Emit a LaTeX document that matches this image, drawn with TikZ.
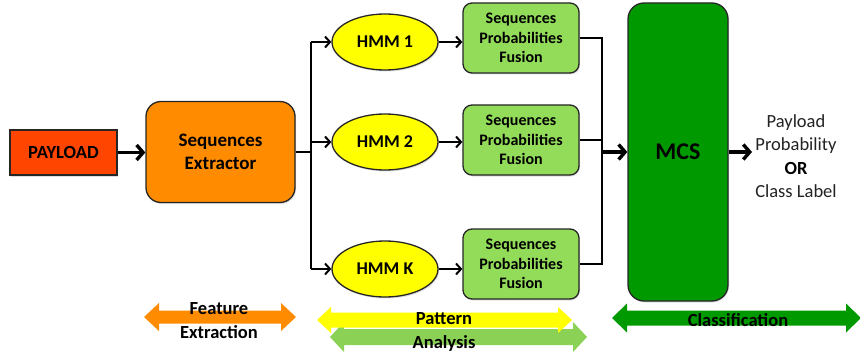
\documentclass[tikz,border=0pt]{standalone}
\usepackage{fontspec}
\setmainfont{Carlito}
\usetikzlibrary{arrows.meta,shapes.geometric,shadows}
\definecolor{payred}{HTML}{FF4500}
\definecolor{extor}{HTML}{FF8C00}
\definecolor{hmmy}{HTML}{FFFF00}
\definecolor{fusg}{HTML}{92DC5A}
\definecolor{mcsg}{HTML}{009900}
\definecolor{outgray}{HTML}{222222}
\newcommand\bigdarrow[7]{%
  \fill[#7] (#1,#3) -- (#1+#6,#3-#5) -- (#1+#6,#3-#4) -- (#2-#6,#3-#4) -- (#2-#6,#3-#5) -- (#2,#3)
    -- (#2-#6,#3+#5) -- (#2-#6,#3+#4) -- (#1+#6,#3+#4) -- (#1+#6,#3+#5) -- cycle;}
\begin{document}
\begin{tikzpicture}[x=1pt,y=-1pt,
  box/.style={draw=black!85, line width=1.3pt, text=black,
    drop shadow={opacity=0.25, shadow xshift=1pt, shadow yshift=-1.5pt}},
  conn/.style={line width=2pt, black},
  arr/.style={conn, -{Straight Barb[length=5pt,width=11pt]}},
  bigarr/.style={line width=3.4pt, black, -{Straight Barb[length=6.5pt,width=15pt]}},
  lbl/.style={font=\bfseries\fontsize{19}{23}\selectfont, align=center},
  fus/.style={box, rectangle, rounded corners=9pt, fill=fusg, minimum width=116pt, minimum height=70pt,
    inner sep=1pt, align=center, font=\bfseries\fontsize{16}{19.5}\selectfont},
  hmm/.style={box, ellipse, fill=hmmy, minimum width=106pt, minimum height=56pt, inner sep=0pt,
    font=\bfseries\fontsize{18}{20}\selectfont},
  bottomlbl/.style={font=\bfseries\fontsize{18.5}{24}\selectfont, align=center, text=black}
]
\useasboundingbox (0,0) rectangle (860,353);
\begin{scope}
\clip (0,0) rectangle (860,353);
% nodes
\node[box, rectangle, fill=payred, minimum width=107pt, minimum height=45pt, inner sep=0pt,
  font=\bfseries\fontsize{18.5}{20}\selectfont] (pay) at (63.5,152.5) {PAYLOAD};
\node[box, rectangle, rounded corners=15pt, fill=extor, minimum width=149pt, minimum height=101pt,
  lbl] (ext) at (220.5,152) {Sequences\\Extractor};
\node[hmm] (h1) at (385,42) {HMM 1};
\node[hmm] (h2) at (385,142) {HMM 2};
\node[hmm] (hk) at (385,269) {HMM K};
\node[fus] (f1) at (521,38) {Sequences\\Probabilities\\Fusion};
\node[fus] (f2) at (521,140) {Sequences\\Probabilities\\Fusion};
\node[fus] (fk) at (521,264) {Sequences\\Probabilities\\Fusion};
\node[box, rectangle, rounded corners=16pt, fill=mcsg, minimum width=100pt, minimum height=298pt,
  font=\bfseries\fontsize{24}{26}\selectfont] (mcs) at (678,152) {MCS};
\node[align=center, text=outgray, font=\fontsize{18.5}{23.3}\selectfont] (out) at (796,156)
  {Payload\\Probability\\{\bfseries\color{black}OR}\\Class Label};
% connectors
\coordinate (lb) at (311,0);
\coordinate (rb) at (602,0);
\draw[conn] (ext.east) -- (ext.east -| lb);
\draw[conn] (h1.west -| lb) -- (hk.west -| lb);
\draw[arr] (h1.west -| lb) -- (h1.west);
\draw[arr] (h2.west -| lb) -- (h2.west);
\draw[arr] (hk.west -| lb) -- (hk.west);
\draw[arr] (h1.east) -- (f1.west |- h1.east);
\draw[arr] (h2.east) -- (f2.west |- h2.east);
\draw[arr] (hk.east) -- (fk.west |- hk.east);
\draw[conn] (f1.east) -- (f1.east -| rb) -- (fk.east -| rb) -- (fk.east);
\draw[conn] (f2.east) -- (f2.east -| rb);
\draw[bigarr] (pay.east) -- (ext.west |- pay.east);
\draw[bigarr] (mcs.west -| rb) -- (mcs.west);
\draw[bigarr] (mcs.east) -- (752,152);
% bottom double arrows
\bigdarrow{144}{296}{317}{6.5}{14}{15}{extor}
\bigdarrow{330}{587}{337}{8}{15}{14}{fusg!95!black}
\bigdarrow{317}{572}{320}{7.5}{13}{14}{hmmy}
\bigdarrow{612}{861}{318}{7.5}{14.5}{15}{mcsg}
\node[bottomlbl] (fe) at (219,320.5) {Feature\\Extraction};
\node[bottomlbl] (pa) at (444,331.5) {Pattern\\Analysis};
\node[bottomlbl] (cl) at (738,320) {Classification};
\end{scope}
\end{tikzpicture}
\end{document}
